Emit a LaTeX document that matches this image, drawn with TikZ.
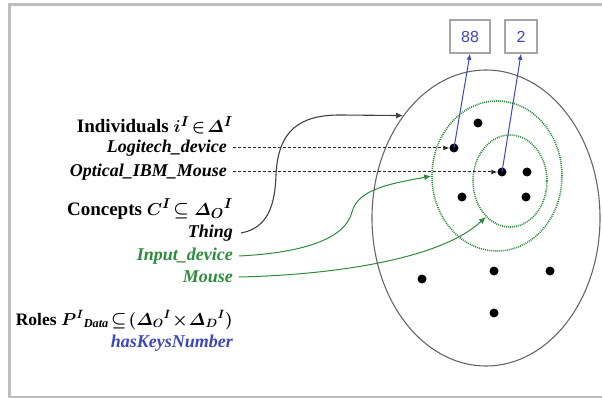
\documentclass[tikz,border=0pt]{standalone}
\usepackage{amsmath}
\usepackage{fontspec}
\setmainfont{Liberation Serif}
\newfontfamily\boxfont{Liberation Sans}
\usetikzlibrary{arrows.meta,shapes.geometric}
\definecolor{gr}{RGB}{45,140,60}
\definecolor{bl}{RGB}{60,70,190}
\definecolor{framecol}{RGB}{190,190,190}
\begin{document}
\begin{tikzpicture}[x=1pt,y=-1pt,
  head/.style={anchor=east, inner sep=0pt, font=\fontsize{19}{22}\selectfont\bfseries\boldmath},
  item/.style={anchor=east, inner sep=0pt, font=\fontsize{18}{21}\selectfont\bfseries\itshape},
  dotnode/.style={circle, fill=black, inner sep=0pt, minimum size=9pt},
  valbox/.style={draw=gray!70, line width=1.6pt, text=bl, font=\boxfont\fontsize{16}{18}\selectfont, minimum height=33pt, inner sep=0pt},
  dotell/.style={ellipse, draw=gr, line width=1.6pt, dash pattern=on 1pt off 1pt, inner sep=0pt},
  dasharrow/.style={draw=gray!30!black, dash pattern=on 3pt off 2pt, line width=1pt, -{Latex[length=6pt,width=5pt]}},
  bluearrow/.style={draw=bl, line width=1pt, -{Latex[length=6pt,width=5pt]}},
  greenarrow/.style={draw=gr, line width=1pt, -{Latex[length=7pt,width=6pt]}},
  blackarrow/.style={draw=black!75, line width=1.1pt, -{Latex[length=7pt,width=6pt]}}
]
\useasboundingbox (0,0) rectangle (602,398);
% frame
\draw[framecol, line width=2.5pt] (615,4.5) -- (9.5,4.5) -- (9.5,397) -- (615,397);

% ellipses
\node[ellipse, draw=black!60, line width=1.1pt, minimum width=228pt, minimum height=296pt, inner sep=0pt] (outer) at (486,218) {};
\node[dotell, minimum width=130pt, minimum height=150pt] (mid) at (497,176) {};
\node[dotell, minimum width=74pt, minimum height=92pt] (inner) at (510,181) {};

% value boxes
\node[valbox, minimum width=40pt] (b88) at (470,36.5) {88};
\node[valbox, minimum width=32pt] (b2) at (521,36.5) {2};

% dots
\node[dotnode] (p1) at (478,123) {};
\node[dotnode] (plogi) at (454,148) {};
\node[dotnode] (popt) at (502,172) {};
\node[dotnode] (p4) at (527,172) {};
\node[dotnode] (p5) at (462,197) {};
\node[dotnode] (p6) at (526,197) {};
\node[dotnode] (p7) at (494,271) {};
\node[dotnode] (p8) at (550,271) {};
\node[dotnode] (p9) at (422,279) {};
\node[dotnode] (p10) at (494,313) {};

% labels
\node[head] (ind) at (233,125) {Individuals $i^{I}\!\in\!\varDelta^{I}$};
\node[item] (logi) at (227,148) {Logitech\_device};
\node[item] (opt) at (227,172) {Optical\_IBM\_Mouse};
\node[head] (conc) at (233,209) {Concepts $C^{I}\!\subseteq\varDelta_{O}{}^{I}$};
\node[item] (thing) at (233,233) {Thing};
\node[item, text=gr] (inp) at (233,256) {Input\_device};
\node[item, text=gr] (mouse) at (233,277) {Mouse};
\node[head, font=\fontsize{17.5}{21}\selectfont\bfseries\boldmath] (roles) at (233,320) {Roles $P^{I}{}_{\mathit{Data}}\!\subseteq\!(\varDelta_{O}{}^{I}\!\times\!\varDelta_{D}{}^{I})$};
\node[item, text=bl] (hk) at (233,343) {hasKeysNumber};

% dashed individual arrows
\draw[dasharrow] ([xshift=6pt]logi.east) -- (plogi.west);
\draw[dasharrow] ([xshift=6pt]opt.east) -- (popt.west);

% data role arrows
\draw[bluearrow] (plogi.center) -- (b88.south);
\draw[bluearrow] (popt.center) -- (b2.south);

% concept arrows
\draw[blackarrow] ([xshift=8pt]thing.east) .. controls (268,228) and (275,205) .. (276,175)
  .. controls (278,130) and (300,115) .. (340,115) -- (outer.129);
\draw[greenarrow] ([xshift=6pt]inp.east) .. controls (300,253) and (345,240) .. (352,212)
  .. controls (358,188) and (395,183) .. (mid.west);
\draw[greenarrow] ([xshift=6pt]mouse.east) .. controls (330,275) and (440,260) .. (inner.236);
\end{tikzpicture}
\end{document}
